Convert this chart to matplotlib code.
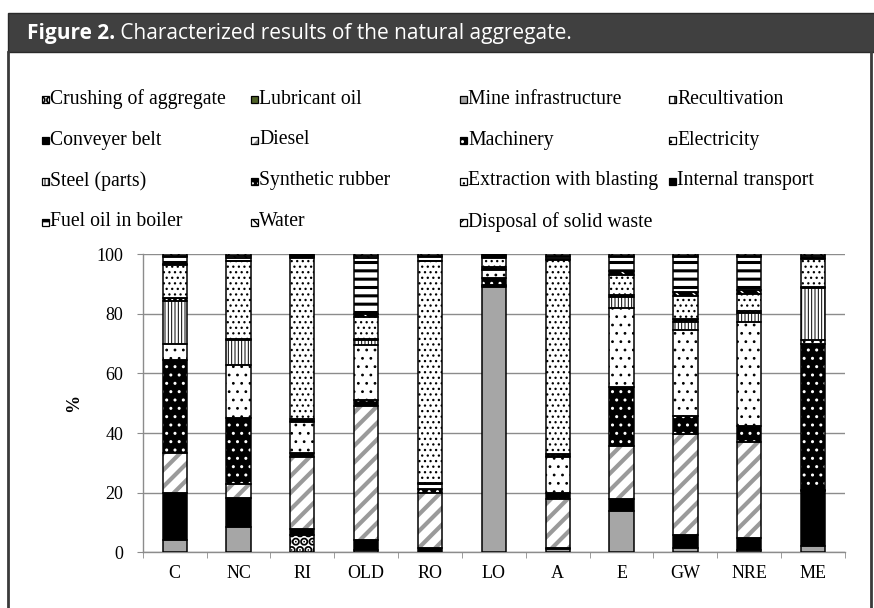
import matplotlib
matplotlib.use("Agg")
import numpy as np
import matplotlib.pyplot as plt
from matplotlib.patches import Rectangle

sites = ["C", "NC", "RI", "OLD", "RO", "LO", "A", "E", "GW", "NRE", "ME"]

# contribution of each process (%), listed bottom to top of the columns
crushing     = [0, 0, 6.0, 0, 0, 0, 0, 0, 0, 0, 0]
lubricant    = [0, 0, 0, 0, 0, 0, 0, 0, 0, 0, 0]
mine_infra   = [4.3, 8.5, 0, 1.0, 0.3, 88.8, 1.1, 13.8, 1.5, 1.0, 2.2]
recultivation = [0, 0, 0, 0, 0, 0, 0, 0, 0, 0, 0]
conveyer     = [15.5, 9.8, 1.9, 3.3, 1.2, 0.5, 0.4, 4.0, 4.5, 3.8, 18.4]
diesel       = [13.7, 4.5, 24.2, 44.9, 18.5, 0.3, 16.3, 17.9, 33.7, 32.1, 0.2]
machinery    = [30.9, 22.3, 1.4, 2.0, 1.3, 2.3, 2.0, 19.7, 6.1, 5.6, 49.2]
electricity  = [5.3, 17.6, 10.1, 18.2, 1.5, 2.8, 12.3, 26.4, 28.7, 34.6, 1.1]
steel        = [14.6, 8.4, 0.3, 1.9, 0.2, 0.3, 0.3, 3.7, 2.6, 3.0, 17.4]
synth_rubber = [1.1, 0.3, 0.8, 0.3, 0.2, 0.5, 0.5, 0.8, 1.1, 0.8, 0.6]
extraction   = [10.8, 26.1, 54.0, 7.4, 74.3, 3.2, 65.2, 6.7, 7.9, 5.6, 9.2]
internal     = [0.5, 0.3, 0.3, 1.0, 0.3, 0.3, 0.3, 1.2, 1.3, 1.5, 0.2]
fuel_oil     = [2.3, 1.0, 0.4, 18.7, 1.2, 0.4, 0.6, 4.7, 11.5, 10.9, 0.3]
water        = [0.4, 0.5, 0.2, 0.5, 0.4, 0.3, 0.4, 0.4, 0.4, 0.4, 0.4]
disposal     = [0.6, 0.7, 0.4, 0.8, 0.6, 0.3, 0.6, 0.7, 0.7, 0.7, 0.8]

series = [
    ("Crushing of aggregate", crushing),
    ("Lubricant oil", lubricant),
    ("Mine infrastructure", mine_infra),
    ("Recultivation", recultivation),
    ("Conveyer belt", conveyer),
    ("Diesel", diesel),
    ("Machinery", machinery),
    ("Electricity", electricity),
    ("Steel (parts)", steel),
    ("Synthetic rubber", synth_rubber),
    ("Extraction with blasting", extraction),
    ("Internal transport", internal),
    ("Fuel oil in boiler", fuel_oil),
    ("Water", water),
    ("Disposal of solid waste", disposal),
]

# face colour, hatch colour, hatch, hatch linewidth
styles = {
    "Crushing of aggregate": ("white", "black", "..", 4.5),
    "Lubricant oil": ("#4f6228", "#4f6228", None, 1.0),
    "Mine infrastructure": ("#a6a6a6", "#a6a6a6", None, 1.0),
    "Recultivation": ("white", "black", "|||", 1.0),
    "Conveyer belt": ("black", "black", None, 1.0),
    "Diesel": ("white", "#9a9a9a", "//", 3.0),
    "Machinery": ("black", "white", "..", 1.0),
    "Electricity": ("white", "black", "..", 0.8),
    "Steel (parts)": ("white", "black", "|||||", 0.7),
    "Synthetic rubber": ("black", "white", "...", 0.8),
    "Extraction with blasting": ("white", "black", "...", 0.9),
    "Internal transport": ("black", "white", "\\\\", 1.0),
    "Fuel oil in boiler": ("white", "black", "--", 2.2),
    "Water": ("white", "black", "\\\\\\", 1.0),
    "Disposal of solid waste": ("white", "black", "xx", 1.0),
}

SERIF = ["Liberation Serif", "DejaVu Serif"]
GRID = "#8c8c8c"


def hatched(patch, lw):
    if hasattr(patch, "set_hatch_linewidth"):
        patch.set_hatch_linewidth(lw)


fig = plt.figure(figsize=(8.74, 6.08), dpi=100, facecolor="white")
ax = fig.add_axes([0.1633, 0.0913, 0.8035, 0.4909])

x = np.arange(len(sites))
bar_w = 0.38
bottom = np.zeros(len(sites))
for name, vals in series:
    vals = np.asarray(vals, dtype=float)
    face, hcol, hatch, hlw = styles[name]
    with plt.rc_context({"hatch.linewidth": hlw}):
        bars = ax.bar(x, vals, bar_w, bottom=bottom, color=face, edgecolor=hcol,
                      linewidth=0, hatch=hatch, zorder=2)
    for b in bars:
        hatched(b, hlw)
    ax.bar(x, vals, bar_w, bottom=bottom, fill=False, edgecolor="black",
           linewidth=[1.1 if v > 0 else 0 for v in vals], zorder=3)
    bottom += vals

ax.set_xlim(-0.5, len(sites) - 0.5)
ax.set_ylim(0, 100)
ax.set_yticks(range(0, 101, 20))
ax.grid(axis="y", color=GRID, linewidth=1.0)
ax.set_axisbelow(True)
for s in ["top", "right"]:
    ax.spines[s].set_visible(False)
for s in ["left", "bottom"]:
    ax.spines[s].set_color(GRID)
    ax.spines[s].set_linewidth(1.0)

ax.set_xticks(x, sites)
ax.set_xticks(np.arange(-0.5, len(sites), 1), minor=True)
ax.tick_params(axis="x", which="major", length=0, pad=9, labelsize=13)
ax.tick_params(axis="x", which="minor", length=4, color=GRID, direction="out")
ax.tick_params(axis="y", length=4, color=GRID, direction="out", pad=10, labelsize=13)
for lab in ax.get_xticklabels() + ax.get_yticklabels():
    lab.set_family(SERIF)

ax.set_ylabel("%", family=SERIF, fontweight="bold", fontsize=13)
ax.yaxis.set_label_coords(-0.086, 0.5)

# overlay in pixel units for the header, frame and legend
ov = fig.add_axes([0, 0, 1, 1])
ov.set_xlim(0, 874)
ov.set_ylim(608, 0)
ov.axis("off")

ov.add_patch(Rectangle((8, 13), 870, 39, facecolor="#404040", edgecolor="#2a2a2a", lw=1))
ov.plot([8, 8], [52, 608], color="#3a3a3a", lw=2)
ov.plot([871, 871], [52, 608], color="#3a3a3a", lw=2)

t1 = ov.text(27, 33, "Figure 2.", color="white", fontsize=15, fontweight="bold",
             family="Open Sans", va="center", ha="left")
ov.annotate(" Characterized results of the natural aggregate.", xy=(1, 0.5),
            xycoords=t1, va="center", ha="left", color="white", fontsize=15,
            family="Open Sans")

col_x = [50, 259, 468, 677]
for i, (name, _) in enumerate(series):
    r, c = divmod(i, 4)
    ty = 99 + 41 * r
    tx = col_x[c]
    face, hcol, hatch, hlw = styles[name]
    with plt.rc_context({"hatch.linewidth": hlw}):
        icon = Rectangle((tx - 8, ty - 3.5), 7, 7, facecolor=face, edgecolor=hcol,
                         lw=0, hatch=hatch)
    hatched(icon, hlw)
    ov.add_patch(icon)
    ov.add_patch(Rectangle((tx - 8, ty - 3.5), 7, 7, fill=False, edgecolor="black", lw=0.9))
    ov.text(tx, ty, name, family=SERIF, fontsize=14.2, va="center", ha="left")

fig.savefig("out.png", dpi=100, facecolor="white")
